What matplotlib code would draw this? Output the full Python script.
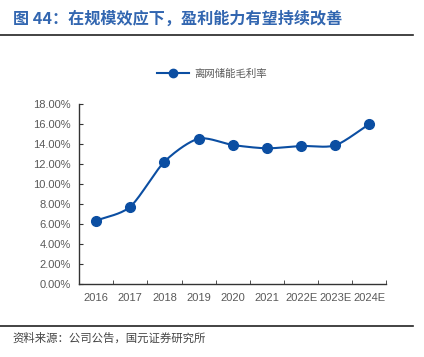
import numpy as np
import matplotlib
matplotlib.use("Agg")
import matplotlib.pyplot as plt
from matplotlib.lines import Line2D

plt.rcParams['font.family'] = ['Noto Sans CJK SC', 'DejaVu Sans']

title = "图 44：在规模效应下，盈利能力有望持续改善"
source = "资料来源：公司公告，国元证券研究所"
series_name = "离网储能毛利率"
years = ["2016", "2017", "2018", "2019", "2020", "2021", "2022E", "2023E", "2024E"]
margin = [6.36, 7.76, 12.26, 14.56, 13.93, 13.60, 13.83, 13.90, 16.03]
yticks = [0, 2, 4, 6, 8, 10, 12, 14, 16, 18]

color = "#0B4EA2"
W, H = 424, 357
fig = plt.figure(figsize=(W / 100, H / 100), dpi=100)

left, right, top, bottom = 79, 386.5, 104.3, 284.3
ax = fig.add_axes([left / W, 1 - bottom / H, (right - left) / W, (bottom - top) / H])

x = np.arange(len(years))
y = np.array(margin)

def smooth(xp, yp, n=30, k=0.8):
    P = np.column_stack([xp, yp]).astype(float)
    P = np.vstack([P[0] - (P[1] - P[0]), P, P[-1] + (P[-1] - P[-2])])
    out = []
    for i in range(1, len(P) - 2):
        p0, p1, p2, p3 = P[i - 1], P[i], P[i + 1], P[i + 2]
        c1 = p1 + k * (p2 - p0) / 6
        c2 = p2 - k * (p3 - p1) / 6
        t = np.linspace(0, 1, n)[:, None]
        c = ((1 - t) ** 3) * p1 + 3 * ((1 - t) ** 2) * t * c1 + 3 * (1 - t) * t ** 2 * c2 + t ** 3 * p2
        out.append(c if i == 1 else c[1:])
    c = np.vstack(out)
    return c[:, 0], c[:, 1]

sx, sy = smooth(x, y)
ax.plot(sx, sy, color=color, lw=1.5, zorder=2)
ax.plot(x, y, 'o', color=color, ms=7, zorder=3)

ax.set_xlim(-0.5, len(years) - 0.5)
ax.set_ylim(0, 18)
ax.set_yticks(yticks)
ax.set_yticklabels([f"{v:.2f}%" for v in yticks], family='Liberation Sans')
ax.set_xticks(x)
ax.set_xticklabels(years, family='Liberation Sans')
ax.set_xticks(np.arange(-0.5, len(years)), minor=True)
ax.tick_params(axis='x', which='major', length=0, pad=6, labelsize=8, labelcolor="#595959")
ax.tick_params(axis='x', which='minor', length=3, direction='in', color="#333333")
ax.tick_params(axis='y', which='major', length=3, direction='in', pad=6, labelsize=8,
               labelcolor="#595959", color="#333333")
for s in ['top', 'right']:
    ax.spines[s].set_visible(False)
for s in ['left', 'bottom']:
    ax.spines[s].set_color("#333333")
    ax.spines[s].set_linewidth(1.0)

handle = Line2D([], [], color=color, lw=1.5, marker='o', ms=6)
leg = fig.legend([handle], [series_name], loc='center', bbox_to_anchor=(212 / W, 1 - 74 / H),
                 frameon=False, fontsize=7.5, handlelength=3.0, handletextpad=0.5)
for t in leg.get_texts():
    t.set_color("#595959")

fig.text(13 / W, 1 - 19 / H, title, fontsize=11.6, fontweight='bold', color="#3266B0",
         va='center', ha='left')
fig.add_artist(Line2D([0, 413 / W], [1 - 35 / H, 1 - 35 / H], color="#222222", lw=1.2))
fig.add_artist(Line2D([0, 413 / W], [1 - 326 / H, 1 - 326 / H], color="#222222", lw=1.2))
fig.text(12 / W, 1 - 338 / H, source, fontsize=8.2, color="#444444", va='center', ha='left')

fig.savefig("out.png", dpi=100)
